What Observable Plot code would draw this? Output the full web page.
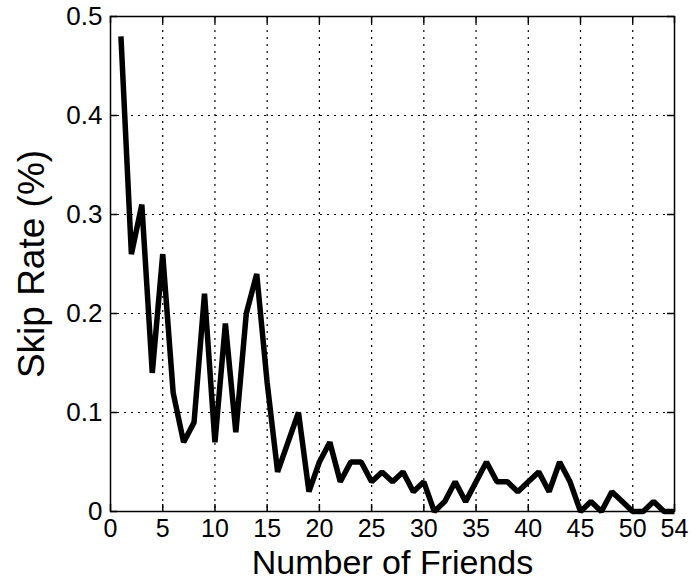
<!DOCTYPE html>
<html>
<head>
<meta charset="utf-8">
<script src="https://cdn.jsdelivr.net/npm/d3@7"></script>
<script src="https://cdn.jsdelivr.net/npm/@observablehq/plot@0.6"></script>
<style>
  html, body { margin: 0; padding: 0; background: #fff; }
  #chart { width: 691px; height: 581px; }
</style>
</head>
<body>
<div id="chart"></div>
<script>
const friends = [1,2,3,4,5,6,7,8,9,10,11,12,13,14,15,16,17,18,19,20,21,22,23,24,25,26,27,28,29,30,31,32,33,34,35,36,37,38,39,40,41,42,43,44,45,46,47,48,49,50,51,52,53,54];
const skipRate = [0.48,0.26,0.31,0.14,0.26,0.12,0.07,0.09,0.22,0.07,
                  0.19,0.08,0.20,0.24,0.13,0.04,0.07,0.10,0.02,0.05,
                  0.07,0.03,0.05,0.05,0.03,0.04,0.03,0.04,0.02,0.03,
                  0.00,0.01,0.03,0.01,0.03,0.05,0.03,0.03,0.02,0.03,
                  0.04,0.02,0.05,0.03,0.00,0.01,0.00,0.02,0.01,0.00,
                  0.00,0.01,0.00,0.00];
const xTicks = [0,5,10,15,20,25,30,35,40,45,50,54];
const yTicks = [0,0.1,0.2,0.3,0.4,0.5];
const yTickLabels = ["0","0.1","0.2","0.3","0.4","0.5"];
const xTitle = "Number of Friends";
const yTitle = "Skip Rate (%)";

const data = friends.map((f, i) => ({friends: f, rate: skipRate[i]}));

const W = 691, H = 581;
const mL = 110, mR = 17, mT = 16, mB = 70;
const innerH = H - mT - mB, innerW = W - mL - mR;
const tickLen = 7;

const chart = Plot.plot({
  width: W,
  height: H,
  marginLeft: mL,
  marginRight: mR,
  marginTop: mT,
  marginBottom: mB,
  style: {fontFamily: "'Liberation Sans', Arial, sans-serif", color: "#000", background: "#fff"},
  x: {domain: [0, 54]},
  y: {domain: [0, 0.5]},
  marks: [
    Plot.gridX(xTicks.slice(1, -1), {stroke: "#000", strokeOpacity: 1, strokeWidth: 1.2, strokeDasharray: "2,5"}),
    Plot.gridY(yTicks.slice(1, -1), {stroke: "#000", strokeOpacity: 1, strokeWidth: 1.2, strokeDasharray: "2,5"}),
    // inward ticks on all four sides
    Plot.tickX(xTicks, {x: d => d, stroke: "#000", strokeWidth: 1.5, insetTop: innerH - tickLen}),
    Plot.tickX(xTicks, {x: d => d, stroke: "#000", strokeWidth: 1.5, insetBottom: innerH - tickLen}),
    Plot.tickY(yTicks, {y: d => d, stroke: "#000", strokeWidth: 1.5, insetRight: innerW - tickLen}),
    Plot.tickY(yTicks, {y: d => d, stroke: "#000", strokeWidth: 1.5, insetLeft: innerW - tickLen}),
    Plot.frame({stroke: "#000", strokeWidth: 1.5}),
    Plot.axisX({ticks: xTicks, tickSize: 0, tickPadding: 8, fontSize: 25, label: null, tickFormat: d => String(d)}),
    Plot.axisY({ticks: yTicks, tickSize: 0, tickPadding: 8, fontSize: 26, label: null,
      tickFormat: d => yTickLabels[yTicks.indexOf(d)] ?? String(d)}),
    Plot.line(data, {x: "friends", y: "rate", stroke: "#000", strokeWidth: 5.5, strokeLinejoin: "miter", strokeLinecap: "butt"}),
    Plot.text([xTitle], {frameAnchor: "bottom", lineAnchor: "bottom", textAnchor: "middle", dy: 62, fontSize: 34, fill: "#000"}),
    Plot.text([yTitle], {frameAnchor: "left", lineAnchor: "middle", textAnchor: "middle", dx: -78, rotate: -90, fontSize: 37, fill: "#000"})
  ]
});
document.getElementById("chart").appendChild(chart);
</script>
</body>
</html>
